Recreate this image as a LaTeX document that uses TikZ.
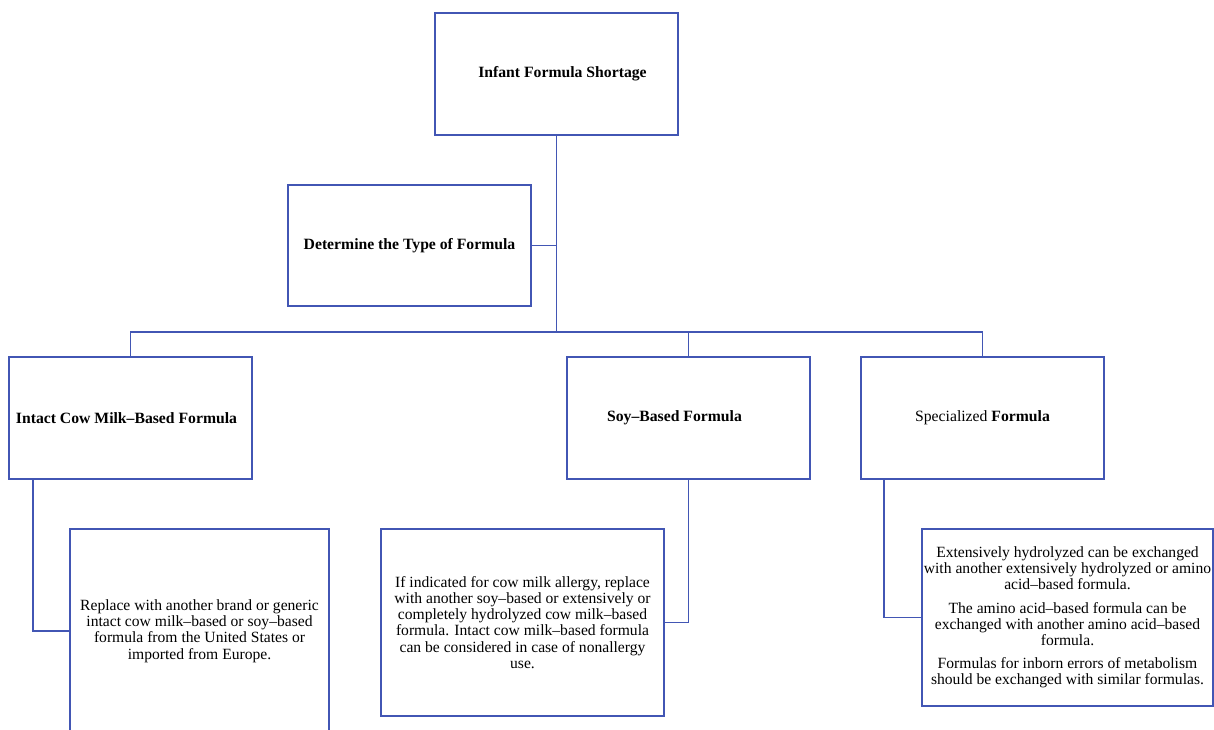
\documentclass[tikz,border=0pt]{standalone}
\usepackage{fontspec}
\setmainfont{Liberation Serif}
\definecolor{lineblue}{RGB}{66,86,180}
\begin{document}
\begin{tikzpicture}[x=1bp,y=-1bp,
  box/.style={draw=lineblue,line width=1.6bp,rectangle,inner sep=0pt,minimum width=243bp,minimum height=122bp,align=center},
  head/.style={font=\fontsize{15.7bp}{18bp}\selectfont\bfseries},
  body/.style={font=\fontsize{15.6bp}{16.2bp}\selectfont},
  conn/.style={draw=lineblue,line width=1.6bp}]
\useasboundingbox (0,0) rectangle (1214,730);
\clip (0,0) rectangle (1214,730);
% level 0 and 1
\node[box,head] (top) at (556.5,74) {\hspace*{12bp}Infant Formula Shortage};
\node[box,head,minimum height=121bp] (det) at (409.5,245.5) {Determine the Type of Formula};
% level 2
\node[box,head] (intact) at (130.5,418) {Intact Cow Milk–Based Formula\hspace*{8bp}};
\node[box,head] (soy) at (688.5,418) {Soy–Based Formula\hspace*{28bp}};
\node[box,head] (spec) at (982.5,418) {\mdseries Specialized \bfseries Formula};
% level 3
\node[box,body,minimum width=259bp,minimum height=204bp] (c1) at (199.5,631)
  {Replace with another brand or generic\\intact cow milk–based or soy–based\\formula from the United States or\\imported from Europe.};
\node[box,body,minimum width=283bp,minimum height=187bp] (c2) at (522.5,622.5)
  {If indicated for cow milk allergy, replace\\with another soy–based or extensively or\\completely hydrolyzed cow milk–based\\formula. Intact cow milk–based formula\\can be considered in case of nonallergy\\use.};
\node[box,body,minimum width=291bp,minimum height=177bp] (c3) at (1067.5,617.5)
  {Extensively hydrolyzed can be exchanged\\with another extensively hydrolyzed or amino\\acid–based formula.\\[7bp]The amino acid–based formula can be\\exchanged with another amino acid–based\\formula.\\[7bp]Formulas for inborn errors of metabolism\\should be exchanged with similar formulas.};
% connectors
\coordinate (hub) at (556,332);
\draw[conn] (top.south) -- (top.south |- hub);
\draw[conn] (det.east) -- (det.east -| hub);
\draw[conn] (intact.north) -- (intact.north |- hub) -- (spec.north |- hub) -- (spec.north);
\draw[conn] (soy.north) -- (soy.north |- hub);
\draw[conn] ([xshift=25bp]intact.south west) |- (c1.west);
\draw[conn] (soy.south) |- (c2.east);
\draw[conn] ([xshift=24bp]spec.south west) |- (c3.west);
\end{tikzpicture}
\end{document}
